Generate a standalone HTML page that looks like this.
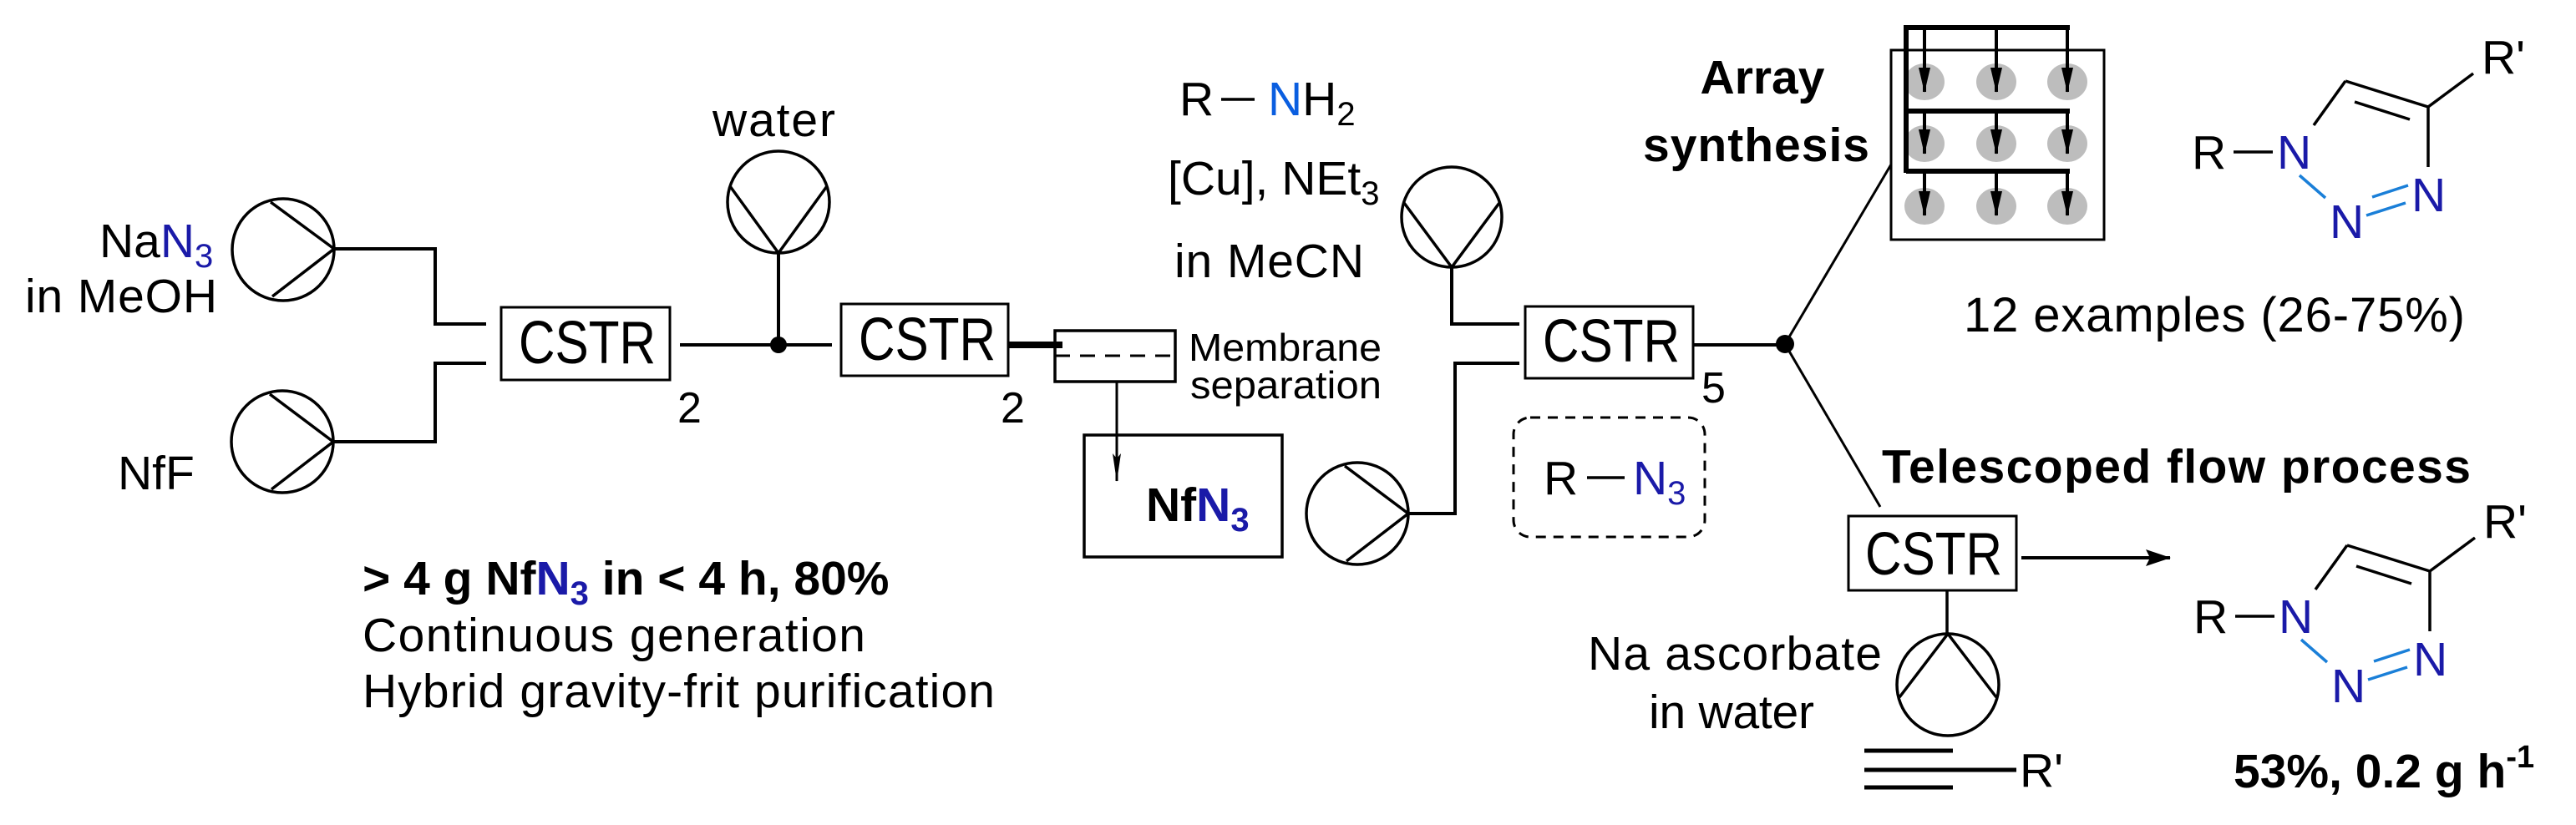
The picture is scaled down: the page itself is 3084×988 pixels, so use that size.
<!DOCTYPE html>
<html><head><meta charset="utf-8"><style>
html,body{margin:0;padding:0;background:#fff;}
svg{display:block;}
text{font-family:"Liberation Sans",Arial,sans-serif;fill:#000;}
.b{font-weight:bold;}
.bl{fill:#1a1aa8;}
.nb{fill:#0a5ee0;}
</style></head><body>
<svg width="3084" height="988" viewBox="0 0 3084 988" xmlns="http://www.w3.org/2000/svg">
<defs>
<marker id="ah" markerWidth="16" markerHeight="14" refX="15" refY="7" orient="auto" markerUnits="userSpaceOnUse" viewBox="0 0 16 14">
<path d="M0,0 L16,7 L0,14 L4,7 z" fill="#000"/></marker>
<marker id="ah2" markerWidth="30" markerHeight="14" refX="29" refY="7" orient="auto" markerUnits="userSpaceOnUse" viewBox="0 0 30 14">
<path d="M0,0 L30,7 L0,14 z" fill="#000"/></marker>
<marker id="ah3" markerWidth="34" markerHeight="10" refX="33" refY="5" orient="auto" markerUnits="userSpaceOnUse" viewBox="0 0 34 10">
<path d="M0,0 L34,5 L0,10 L6,5 z" fill="#000"/></marker>
<marker id="ah4" markerWidth="30" markerHeight="20" refX="29" refY="10" orient="auto" markerUnits="userSpaceOnUse" viewBox="0 0 30 20">
<path d="M0,0 L30,10 L0,20 L5,10 z" fill="#000"/></marker>
</defs>
<g stroke="#000" stroke-width="4" fill="none">
<!-- pumps -->
<circle cx="339" cy="299" r="61" stroke-width="3.5"/>
<polyline points="324,242 400,298 326,355" stroke-width="3.5"/>
<circle cx="338" cy="529" r="61" stroke-width="3.5"/>
<polyline points="323,472 399,529 325,586" stroke-width="3.5"/>
<circle cx="932" cy="242" r="61" stroke-width="3.5"/>
<polyline points="874,223 932,303 990,223" stroke-width="3.5"/>
<circle cx="1738" cy="260" r="60" stroke-width="3.5"/>
<polyline points="1681,243 1738,320 1795,243" stroke-width="3.5"/>
<circle cx="1625" cy="615" r="61" stroke-width="3.5"/>
<polyline points="1610,558 1686,615 1612,672" stroke-width="3.5"/>
<circle cx="2332" cy="820" r="61" stroke-width="3.5"/>
<polyline points="2274,835 2332,759 2390,835" stroke-width="3.5"/>
<!-- connectors -->
<polyline points="400,298 521,298 521,388 582,388"/>
<polyline points="399,529 521,529 521,435 582,435"/>
<line x1="814" y1="413" x2="996" y2="413"/>
<line x1="932" y1="303" x2="932" y2="413"/>
<line x1="1207" y1="413" x2="1272" y2="413" stroke-width="8"/>
<line x1="1337" y1="457" x2="1337" y2="576" stroke-width="3" marker-end="url(#ah3)"/>
<polyline points="1738,320 1738,388 1819,388"/>
<polyline points="1686,615 1742,615 1742,435 1819,435"/>
<line x1="2026" y1="413" x2="2137" y2="413"/>
<line x1="2137" y1="412" x2="2264" y2="197" stroke-width="3"/>
<line x1="2137" y1="412" x2="2251" y2="607" stroke-width="3"/>
<line x1="2420" y1="668" x2="2598" y2="668" marker-end="url(#ah4)"/>
<line x1="2331" y1="707" x2="2331" y2="759" stroke-width="3.5"/>
<!-- boxes -->
<rect x="600" y="368" width="202" height="87" stroke-width="3"/>
<rect x="1007" y="364" width="200" height="86" stroke-width="3"/>
<rect x="1263" y="396" width="144" height="61" stroke-width="3.5"/>
<line x1="1263" y1="426" x2="1407" y2="426" stroke-width="3" stroke-dasharray="18,12"/>
<rect x="1298" y="521" width="237" height="146" stroke-width="3.5"/>
<rect x="1826" y="367" width="201" height="86" stroke-width="3"/>
<rect x="2213" y="618" width="201" height="89" stroke-width="3"/>
<rect x="1812" y="500" width="229" height="143" rx="20" stroke-width="3" stroke-dasharray="12,9"/>
<!-- alkyne -->
<line x1="2232" y1="899" x2="2338" y2="899" stroke-width="5"/>
<line x1="2232" y1="922" x2="2414" y2="922" stroke-width="5"/>
<line x1="2232" y1="943" x2="2338" y2="943" stroke-width="5"/>
<!-- bonds -->
<line x1="1462" y1="119" x2="1502" y2="119" stroke-width="3.5"/>
<line x1="1900" y1="572" x2="1945" y2="572" stroke-width="3.5"/>
<!-- array -->
<rect x="2264" y="60" width="255" height="227" stroke-width="3"/>
</g>
<g fill="#bdbdbd">
<ellipse cx="2304" cy="98" rx="24" ry="22"/><ellipse cx="2390" cy="98" rx="24" ry="22"/><ellipse cx="2475" cy="98" rx="24" ry="22"/>
<ellipse cx="2304" cy="172" rx="24" ry="22"/><ellipse cx="2390" cy="172" rx="24" ry="22"/><ellipse cx="2475" cy="172" rx="24" ry="22"/>
<ellipse cx="2304" cy="247" rx="24" ry="22"/><ellipse cx="2390" cy="247" rx="24" ry="22"/><ellipse cx="2475" cy="247" rx="24" ry="22"/>
</g>
<g stroke="#000" stroke-width="6" fill="none">
<line x1="2282" y1="30" x2="2282" y2="207"/>
<line x1="2282" y1="33" x2="2478" y2="33"/>
<line x1="2282" y1="133" x2="2478" y2="133"/>
<line x1="2282" y1="205" x2="2478" y2="205"/>
</g>
<g stroke="#000" stroke-width="4">
<line x1="2304" y1="33" x2="2304" y2="110" marker-end="url(#ah2)"/><line x1="2390" y1="33" x2="2390" y2="110" marker-end="url(#ah2)"/><line x1="2475" y1="33" x2="2475" y2="110" marker-end="url(#ah2)"/>
<line x1="2304" y1="133" x2="2304" y2="184" marker-end="url(#ah2)"/><line x1="2390" y1="133" x2="2390" y2="184" marker-end="url(#ah2)"/><line x1="2475" y1="133" x2="2475" y2="184" marker-end="url(#ah2)"/>
<line x1="2304" y1="205" x2="2304" y2="258" marker-end="url(#ah2)"/><line x1="2390" y1="205" x2="2390" y2="258" marker-end="url(#ah2)"/><line x1="2475" y1="205" x2="2475" y2="258" marker-end="url(#ah2)"/>
</g>
<circle cx="932" cy="413" r="10" fill="#000"/>
<circle cx="2137" cy="412" r="11" fill="#000"/>

<!-- triazoles -->
<g>
<g stroke="#000" stroke-width="3.5" fill="none">
<line x1="2674" y1="182" x2="2721" y2="182"/>
<line x1="2770" y1="150" x2="2808" y2="97"/>
<line x1="2808" y1="97" x2="2907" y2="128"/>
<line x1="2819" y1="122" x2="2885" y2="143"/>
<line x1="2907" y1="128" x2="2961" y2="88"/>
<line x1="2907" y1="128" x2="2907" y2="200"/>
</g>
<g stroke="#1a7fd8" stroke-width="3.5">
<line x1="2753" y1="210" x2="2784" y2="237"/>
<line x1="2833" y1="258" x2="2880" y2="243"/>
<line x1="2840" y1="236" x2="2883" y2="222"/>
</g>
<text x="2624" y="202" font-size="57">R</text>
<text x="2726" y="202" font-size="57" class="bl">N</text>
<text x="2887" y="253" font-size="57" class="bl">N</text>
<text x="2789" y="285" font-size="57" class="bl">N</text>
<text x="2971" y="88" font-size="57">R'</text>
</g>
<g transform="translate(2,556)">
<g stroke="#000" stroke-width="3.5" fill="none">
<line x1="2674" y1="182" x2="2721" y2="182"/>
<line x1="2770" y1="150" x2="2808" y2="97"/>
<line x1="2808" y1="97" x2="2907" y2="128"/>
<line x1="2819" y1="122" x2="2885" y2="143"/>
<line x1="2907" y1="128" x2="2961" y2="88"/>
<line x1="2907" y1="128" x2="2907" y2="200"/>
</g>
<g stroke="#1a7fd8" stroke-width="3.5">
<line x1="2753" y1="210" x2="2784" y2="237"/>
<line x1="2833" y1="258" x2="2880" y2="243"/>
<line x1="2840" y1="236" x2="2883" y2="222"/>
</g>
<text x="2624" y="202" font-size="57">R</text>
<text x="2726" y="202" font-size="57" class="bl">N</text>
<text x="2887" y="253" font-size="57" class="bl">N</text>
<text x="2789" y="285" font-size="57" class="bl">N</text>
<text x="2971" y="88" font-size="57">R'</text>
</g>

<!-- texts -->
<text x="853" y="163" font-size="57" textLength="147">water</text>
<text x="119" y="308" font-size="57">Na<tspan class="bl">N</tspan><tspan class="bl" font-size="40" dy="12">3</tspan></text>
<text x="30" y="374" font-size="57" textLength="230">in MeOH</text>
<text x="141" y="586" font-size="57">NfF</text>
<text x="621" y="435" font-size="72" textLength="164" lengthAdjust="spacingAndGlyphs">CSTR</text>
<text x="1028" y="431" font-size="72" textLength="164" lengthAdjust="spacingAndGlyphs">CSTR</text>
<text x="1847" y="433" font-size="72" textLength="164" lengthAdjust="spacingAndGlyphs">CSTR</text>
<text x="2233" y="688" font-size="72" textLength="164" lengthAdjust="spacingAndGlyphs">CSTR</text>
<text x="811" y="506" font-size="52">2</text>
<text x="1198" y="506" font-size="52">2</text>
<text x="2037" y="482" font-size="52">5</text>
<text x="1423" y="432" font-size="46" textLength="231" lengthAdjust="spacingAndGlyphs">Membrane</text>
<text x="1425" y="477" font-size="46" textLength="229" lengthAdjust="spacingAndGlyphs">separation</text>
<text x="1372" y="624" font-size="57" class="b">Nf<tspan class="bl">N</tspan><tspan class="bl" font-size="40" dy="12">3</tspan></text>
<text x="434" y="712" font-size="57" class="b">&gt; 4 g Nf<tspan class="bl">N</tspan><tspan class="bl" font-size="40" dy="12">3</tspan><tspan dy="-12"> in &lt; 4 h, 80%</tspan></text>
<text x="434" y="780" font-size="57" textLength="602">Continuous generation</text>
<text x="434" y="847" font-size="57" textLength="757">Hybrid gravity-frit purification</text>
<text x="1412" y="138" font-size="57">R</text>
<text x="1518" y="138" font-size="57"><tspan class="nb">N</tspan>H<tspan font-size="40" dy="12">2</tspan></text>
<text x="1398" y="233" font-size="57">[Cu], NEt<tspan font-size="40" dy="12">3</tspan></text>
<text x="1406" y="332" font-size="57" textLength="227">in MeCN</text>
<text x="2110" y="112" font-size="57" class="b" text-anchor="middle">Array</text>
<text x="1967" y="193" font-size="57" class="b" textLength="271">synthesis</text>
<text x="2351" y="397" font-size="58" textLength="600">12 examples (26-75%)</text>
<text x="1848" y="592" font-size="57">R</text>
<text x="1955" y="592" font-size="57"><tspan class="bl">N</tspan><tspan class="bl" font-size="40" dy="12">3</tspan></text>
<text x="2253" y="578" font-size="57" class="b" textLength="705">Telescoped flow process</text>
<text x="1901" y="802" font-size="57" textLength="352">Na ascorbate</text>
<text x="1974" y="872" font-size="57" textLength="198">in water</text>
<text x="2418" y="942" font-size="57">R'</text>
<text x="2674" y="943" font-size="57" class="b">53%, 0.2 g h<tspan font-size="38" dy="-24">-1</tspan></text>
</svg>
</body></html>
